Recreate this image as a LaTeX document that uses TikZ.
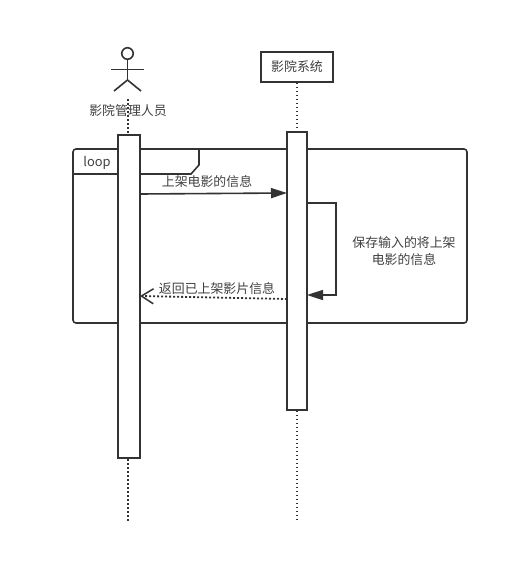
\documentclass[tikz,border=0pt]{standalone}
\usepackage{fontspec}
\setmainfont{Noto Sans CJK SC}
\usetikzlibrary{arrows.meta}

\begin{document}
\begin{tikzpicture}[x = 1pt, y = -1pt, font=\fontsize{12.9pt}{17.5pt}\selectfont, text = black!75]
	\tikzstyle{lineStyle} = [draw = black!80, line width = 1.6pt]
	\tikzstyle{lifeStyle} = [draw = black!80, line width = 1.5pt, dash pattern = on 1.5pt off 2.5pt]
	\tikzstyle{barStyle} = [lineStyle, fill = white, inner sep = 0pt]
	\tikzstyle{solidHead} = [-{Triangle[length = 16pt, width = 10pt]}]
	\tikzstyle{openHead} = [-{Straight Barb[length = 12pt, width = 15pt, line width = 1.5pt]}]
	\useasboundingbox (0, 0) rectangle (527, 584);
	% actor
	\node[lineStyle, shape = circle, minimum size = 11.5pt, inner sep = 0pt] (head) at (127.5, 53.5) {};
	\coordinate (hip) at (127.5, 80);
	\coordinate (armL) at (111, 69.5);
	\coordinate (armR) at (144, 69.5);
	\coordinate (legL) at (114, 91);
	\coordinate (legR) at (141, 91);
	\draw[lineStyle] (head) -- (hip);
	\draw[lineStyle] (armL) -- (armR);
	\draw[lineStyle] (legL) -- (hip) -- (legR);
	\node[inner sep = 0pt] (manager) at (128, 110.5) {影院管理人员};
	\node[lineStyle, minimum width = 72pt, minimum height = 30pt, inner sep = 0pt] (system) at (297, 67) {影院系统};
	% lifelines
	\coordinate (top1) at (128, 99);
	\coordinate (end1) at (128, 521);
	\coordinate (end2) at (297, 521);
	\draw[lifeStyle] (top1) -- (end1);
	\draw[lifeStyle] (system) -- (end2);
	% loop frame
	\node[lineStyle, rounded corners = 3pt, minimum width = 394pt, minimum height = 174pt, inner sep = 0pt] (frame) at (270, 236) {};
	\coordinate (tabA) at (73, 174);
	\coordinate (tabB) at (191, 174);
	\coordinate (tabC) at (199, 165);
	\coordinate (tabD) at (199, 149);
	\draw[lineStyle] (tabA) -- (tabB) -- (tabC) -- (tabD);
	\node (loop) at (97, 163) {loop};
	% activation bars
	\node[barStyle, minimum width = 22pt, minimum height = 323pt] (bar1) at (129, 296.5) {};
	\node[barStyle, minimum width = 20pt, minimum height = 278pt] (bar2) at (297, 271) {};
	% messages
	\coordinate (m1a) at (140, 194);
	\coordinate (m1b) at (287, 193);
	\draw[lineStyle, solidHead] (m1a) -- (m1b);
	\node (m1) at (207, 182) {上架电影的信息};
	\coordinate (s1) at (307, 203);
	\coordinate (s2) at (336, 203);
	\coordinate (s3) at (336, 295);
	\coordinate (s4) at (307, 295);
	\draw[lineStyle, solidHead] (s1) -- (s2) -- (s3) -- (s4);
	\node[align = center] (save) at (404, 251) {保存输入的将上架\\电影的信息};
	\coordinate (r1) at (287, 299);
	\coordinate (r2) at (140, 296);
	\draw[draw = black!80, line width = 1.8pt, dash pattern = on 2pt off 2pt, openHead] (r1) -- (r2);
	\node (back) at (217, 289) {返回已上架影片信息};
\end{tikzpicture}
\end{document}
